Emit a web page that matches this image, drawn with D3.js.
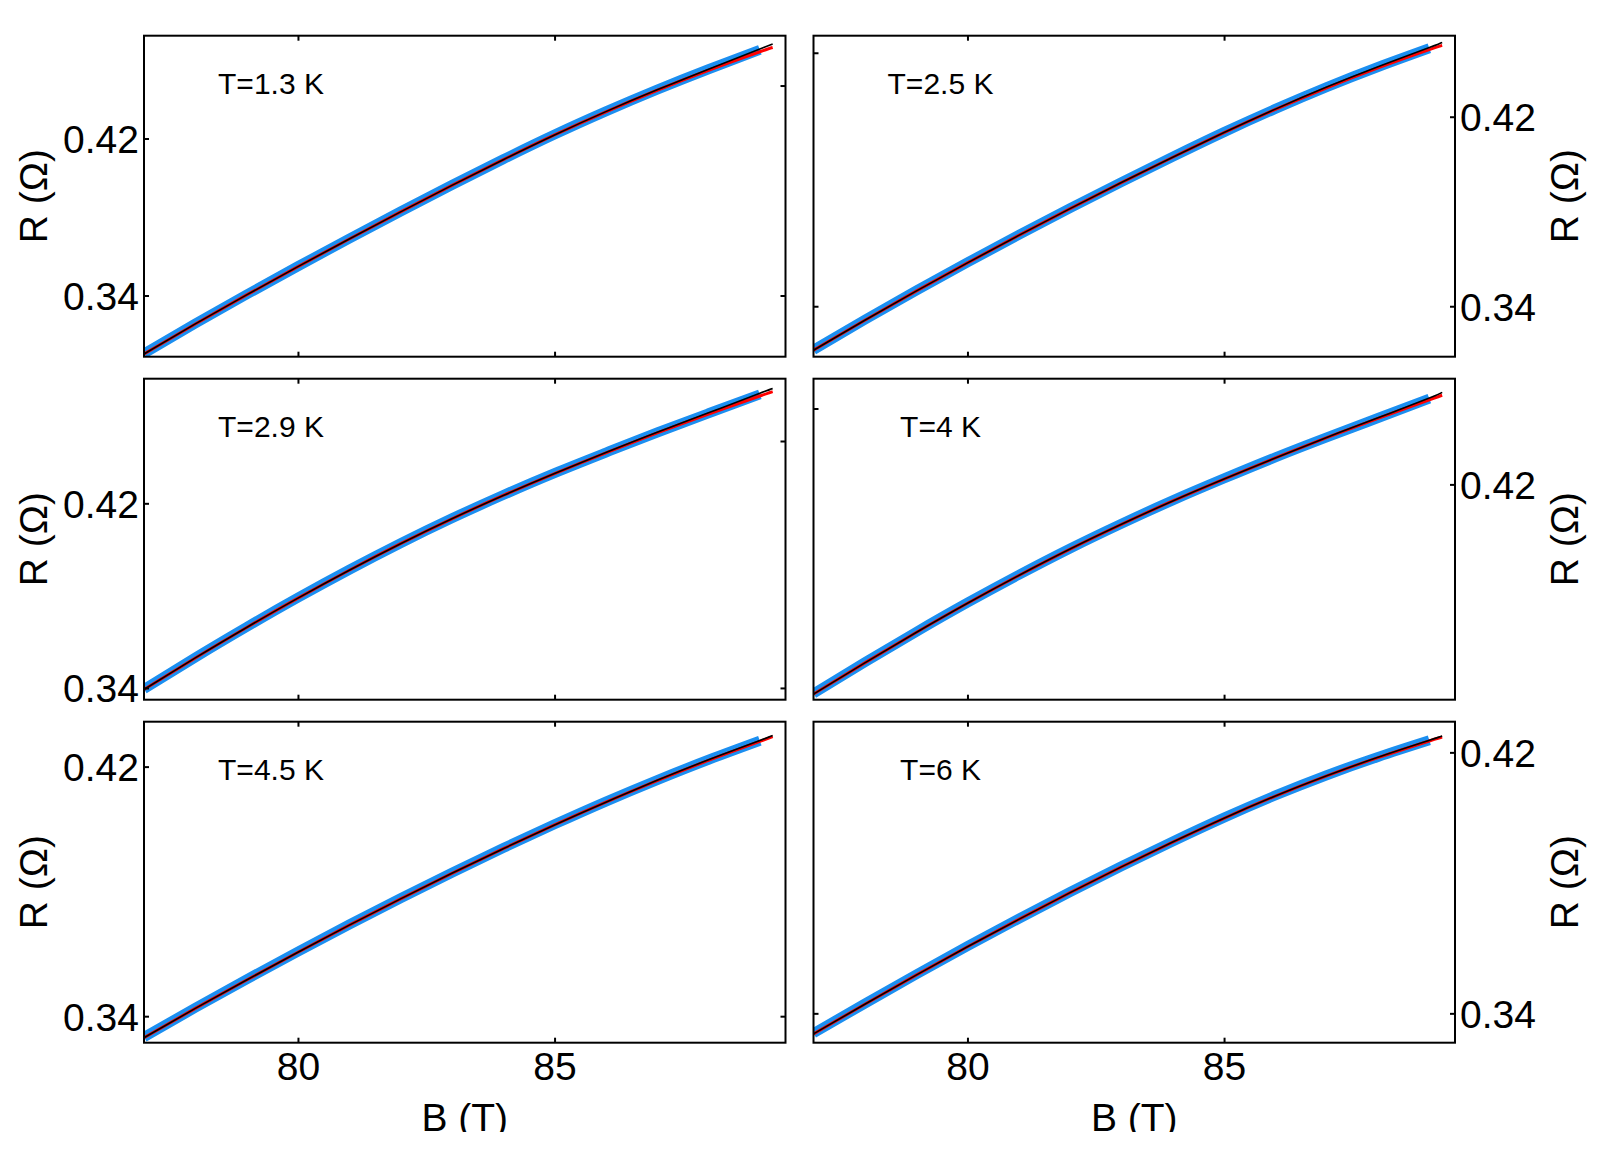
<!DOCTYPE html>
<html>
<head>
<meta charset="utf-8">
<script src="https://cdn.jsdelivr.net/npm/d3@7"></script>
<style>
  html, body { margin: 0; padding: 0; background: #fff; }
  svg { display: block; font-family: "Liberation Sans", Arial, sans-serif; }
</style>
</head>
<body>
<svg id="chart" width="1600" height="1151"></svg>
<script>
// ---------------- data ----------------
const panelLabels = ["T=1.3 K", "T=2.5 K", "T=2.9 K", "T=4 K", "T=4.5 K", "T=6 K"];
const xTicks = [80, 85];
const yTicks = [0.34, 0.42];
const mirrorTicks = [0.34, 0.447];
const xDomain = [77, 89.5];
const yMin = [0.3088, 0.3187, 0.3349, 0.3434, 0.3315, 0.3310];
const yMax = [0.4724, 0.4542, 0.4740, 0.4576, 0.4344, 0.4294];

const bFit  = [77, 78, 79, 80, 81, 82, 83, 84, 85, 86, 87, 88, 89, 89.25];
const bData = [77, 78, 79, 80, 81, 82, 83, 84, 85, 86, 87, 88, 89];

// T = 1.3 K
const data1  = [0.3104,0.3257,0.3405,0.3549,0.3690,0.3828,0.3963,0.4094,0.4220,0.4338,0.4449,0.4553,0.4652];
const black1 = [0.3102,0.3255,0.3403,0.3547,0.3688,0.3826,0.3961,0.4092,0.4218,0.4337,0.4448,0.4553,0.4656,0.4682];
const red1   = [0.3102,0.3255,0.3403,0.3547,0.3688,0.3826,0.3961,0.4092,0.4218,0.4336,0.4446,0.4548,0.4642,0.4664];
// T = 2.5 K
const data2  = [0.3216,0.3343,0.3466,0.3585,0.3701,0.3814,0.3924,0.4031,0.4135,0.4233,0.4325,0.4410,0.4489];
const black2 = [0.3214,0.3341,0.3464,0.3583,0.3699,0.3812,0.3922,0.4029,0.4133,0.4232,0.4325,0.4411,0.4492,0.4513];
const red2   = [0.3214,0.3341,0.3464,0.3583,0.3699,0.3812,0.3922,0.4029,0.4133,0.4231,0.4322,0.4406,0.4483,0.4501];
// T = 2.9 K
const data3  = [0.3395,0.3532,0.3664,0.3791,0.3912,0.4027,0.4135,0.4236,0.4331,0.4420,0.4507,0.4590,0.4672];
const black3 = [0.3393,0.3530,0.3662,0.3789,0.3910,0.4025,0.4133,0.4234,0.4329,0.4420,0.4508,0.4592,0.4677,0.4697];
const red3   = [0.3393,0.3530,0.3662,0.3789,0.3910,0.4025,0.4133,0.4234,0.4329,0.4419,0.4505,0.4587,0.4665,0.4684];
// T = 4 K
const data4  = [0.3456,0.3567,0.3675,0.3779,0.3878,0.3972,0.4060,0.4143,0.4221,0.4296,0.4367,0.4436,0.4505];
const black4 = [0.3454,0.3565,0.3673,0.3777,0.3876,0.3970,0.4058,0.4141,0.4219,0.4294,0.4367,0.4437,0.4507,0.4527];
const red4   = [0.3454,0.3565,0.3673,0.3777,0.3876,0.3970,0.4058,0.4141,0.4219,0.4294,0.4366,0.4435,0.4501,0.4517];
// T = 4.5 K
const data5  = [0.3333,0.3427,0.3518,0.3607,0.3694,0.3778,0.3860,0.3939,0.4015,0.4088,0.4157,0.4222,0.4283];
const black5 = [0.3331,0.3425,0.3516,0.3605,0.3692,0.3776,0.3858,0.3937,0.4013,0.4086,0.4156,0.4222,0.4284,0.4300];
const red5   = [0.3331,0.3425,0.3516,0.3605,0.3692,0.3776,0.3858,0.3937,0.4013,0.4086,0.4155,0.4220,0.4281,0.4296];
// T = 6 K
const data6  = [0.3339,0.3430,0.3519,0.3606,0.3690,0.3772,0.3851,0.3927,0.4000,0.4068,0.4130,0.4186,0.4237];
const black6 = [0.3337,0.3428,0.3517,0.3604,0.3688,0.3770,0.3849,0.3925,0.3998,0.4066,0.4128,0.4185,0.4237,0.4250];
const red6   = [0.3337,0.3428,0.3517,0.3604,0.3688,0.3770,0.3849,0.3925,0.3998,0.4066,0.4128,0.4184,0.4235,0.4247];

const dataSeries  = [data1, data2, data3, data4, data5, data6];
const blackSeries = [black1, black2, black3, black4, black5, black6];
const redSeries   = [red1, red2, red3, red4, red5, red6];

// ---------------- layout ----------------
const svg = d3.select("#chart");
const left0 = 144, top0 = 35.7;
const pw = 641.5, ph = 321;
const colGap = 28, rowGap = 22;
const fmt = d3.format(".2f");
const FONT = '"Liberation Sans", Arial, sans-serif';

const defs = svg.append("defs");
defs.append("clipPath").attr("id", "pageclip")
  .append("rect").attr("x", 0).attr("y", 0).attr("width", 1600).attr("height", 1132);
const root = svg.append("g").attr("clip-path", "url(#pageclip)");

const x = d3.scaleLinear().domain(xDomain).range([0, pw]);

panelLabels.forEach((lab, i) => {
  const col = i % 2, row = Math.floor(i / 2);
  const gx = left0 + col * (pw + colGap);
  const gy = top0 + row * (ph + rowGap);
  const g = root.append("g").attr("transform", `translate(${gx},${gy})`);
  const y = d3.scaleLinear().domain([yMin[i], yMax[i]]).range([ph, 0]);

  const cid = "clip" + i;
  defs.append("clipPath").attr("id", cid)
    .append("rect").attr("x", 0).attr("y", 0).attr("width", pw).attr("height", ph);

  const plot = g.append("g").attr("clip-path", `url(#${cid})`);
  const line = d3.line().x(d => x(d[0])).y(d => y(d[1])).curve(d3.curveNatural);

  plot.append("path")
    .attr("d", line(bData.map((b, k) => [b, dataSeries[i][k]])))
    .attr("fill", "none").attr("stroke", "#1c8ff0").attr("stroke-width", 10)
    .attr("stroke-linecap", "butt");
  plot.append("path")
    .attr("d", line(bFit.map((b, k) => [b, redSeries[i][k]])))
    .attr("fill", "none").attr("stroke", "#ff0000").attr("stroke-width", 3);
  plot.append("path")
    .attr("d", line(bFit.map((b, k) => [b, blackSeries[i][k]])))
    .attr("fill", "none").attr("stroke", "#000").attr("stroke-width", 1.6);

  const inDom = v => v >= yMin[i] && v <= yMax[i];
  const prim = yTicks.filter(inDom);
  const mir = mirrorTicks.filter(inDom);

  const primAxis = (col === 0 ? d3.axisLeft(y) : d3.axisRight(y))
    .tickValues(prim).tickSizeInner(-5).tickSizeOuter(0).tickPadding(5).tickFormat(fmt);
  const mirAxis = (col === 0 ? d3.axisRight(y) : d3.axisLeft(y))
    .tickValues(mir).tickSizeInner(-5).tickSizeOuter(0).tickFormat("");

  const ga = g.append("g").attr("transform", `translate(${col === 0 ? 0 : pw},0)`).call(primAxis);
  const gm = g.append("g").attr("transform", `translate(${col === 0 ? pw : 0},0)`).call(mirAxis);

  const xb = d3.axisBottom(x).tickValues(xTicks).tickSizeInner(-5).tickSizeOuter(0).tickPadding(10)
    .tickFormat(row === 2 ? d3.format("d") : "");
  const xt = d3.axisTop(x).tickValues(xTicks).tickSizeInner(-5).tickSizeOuter(0).tickFormat("");
  const gxb = g.append("g").attr("transform", `translate(0,${ph})`).call(xb);
  const gxt = g.append("g").call(xt);

  [ga, gm, gxb, gxt].forEach(a => {
    a.select(".domain").remove();
    a.selectAll(".tick line").attr("stroke", "#000").attr("stroke-width", 2);
    a.selectAll(".tick text").attr("fill", "#000").attr("font-size", 39)
      .attr("font-family", FONT);
  });
  ga.selectAll(".tick text").attr("dy", "0.36em");

  g.append("rect").attr("x", 0).attr("y", 0).attr("width", pw).attr("height", ph)
    .attr("fill", "none").attr("stroke", "#000").attr("stroke-width", 2);

  g.append("text").attr("x", 127).attr("y", 58).attr("text-anchor", "middle")
    .attr("font-size", 30).attr("fill", "#000").text(lab);

  const tx = col === 0 ? 47 - gx : 1578 - gx;
  g.append("text")
    .attr("transform", `translate(${tx},${ph / 2}) rotate(-90)`)
    .attr("text-anchor", "middle").attr("font-size", 39).attr("fill", "#000")
    .text("R (Ω)");

  if (row === 2) {
    g.append("text").attr("x", pw / 2).attr("y", 1131.5 - gy).attr("text-anchor", "middle")
      .attr("font-size", 39).attr("fill", "#000").text("B (T)");
  }
});
</script>
</body>
</html>
